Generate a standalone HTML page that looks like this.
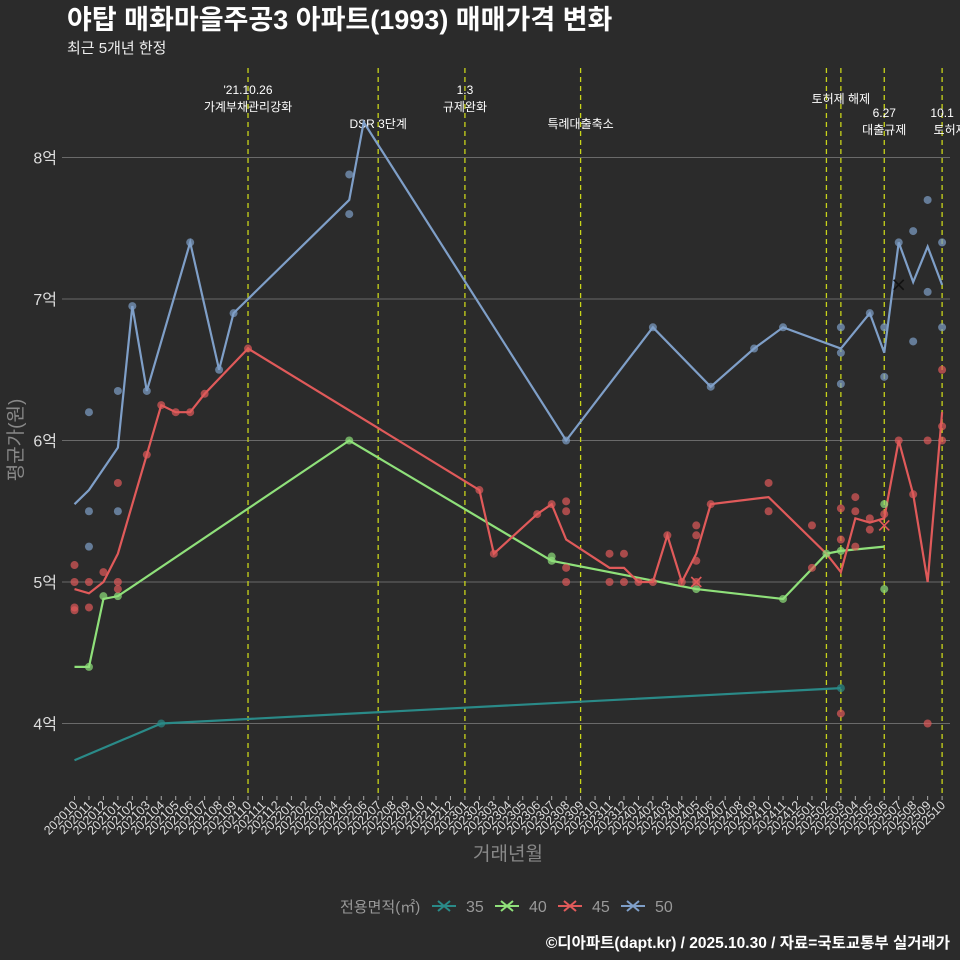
<!DOCTYPE html>
<html><head><meta charset="utf-8">
<style>
body{margin:0;background:#2b2b2b;}
svg{display:block;font-family:"Liberation Sans","Noto Sans CJK KR",sans-serif;}
</style></head>
<body>
<svg id="c" width="960" height="960" viewBox="0 0 960 960">
<rect width="960" height="960" fill="#2b2b2b"/>
<text x="67" y="29" fill="#fff" font-size="27" font-weight="bold">야탑 매화마을주공3 아파트(1993) 매매가격 변화</text>
<text x="67" y="53" fill="#eee" font-size="15">최근 5개년 한정</text>
<g id="grid"></g><g id="vlines"></g><g id="lines"></g><g id="pts"></g><g id="xt"></g>
<text transform="translate(22,440) rotate(-90)" text-anchor="middle" fill="#888" font-size="19">평균가(원)</text>
<text x="508" y="860" text-anchor="middle" fill="#888" font-size="19">거래년월</text>
<g id="legend"><text x="340" y="912" fill="#999" font-size="15">전용면적(㎡)</text></g>
<text x="950" y="948" text-anchor="end" fill="#fff" font-size="15.5" font-weight="bold">©디아파트(dapt.kr) / 2025.10.30 / 자료=국토교통부 실거래가</text>
</svg>
<script>
const months=[];for(let y=2020,m=10;!(y===2025&&m===11);){months.push(y+String(m).padStart(2,'0'));m++;if(m>12){m=1;y++;}}
const yTicks=[4,5,6,7,8];
const seriesNames=['35','40','45','50'];
const s35=[['202010',3.74],['202104',4.0],['202503',4.25]];
const s40=[['202010',4.4],['202011',4.4],['202012',4.88],['202101',4.9],['202205',6.0],['202307',5.15],['202405',4.95],['202411',4.88],['202502',5.2],['202503',5.22],['202506',5.25]];
const s45=[['202010',4.95],['202011',4.92],['202012',5.0],['202101',5.2],['202103',5.9],['202104',6.25],['202105',6.2],['202106',6.2],['202107',6.33],['202110',6.65],['202302',5.65],['202303',5.2],['202306',5.48],['202307',5.55],['202308',5.3],['202311',5.1],['202312',5.1],['202401',5.0],['202402',5.0],['202403',5.33],['202404',5.0],['202405',5.2],['202406',5.55],['202410',5.6],['202502',5.2],['202503',5.07],['202504',5.45],['202505',5.42],['202506',5.45],['202507',6.0],['202508',5.62],['202509',5.0],['202510',6.2]];
const s50=[['202010',5.55],['202011',5.65],['202101',5.95],['202102',6.95],['202103',6.35],['202105',7.05],['202106',7.4],['202108',6.5],['202109',6.9],['202205',7.7],['202206',8.25],['202308',6.0],['202402',6.8],['202406',6.38],['202409',6.65],['202411',6.8],['202503',6.65],['202505',6.9],['202506',6.62],['202507',7.4],['202508',7.12],['202509',7.37],['202510',7.1]];
const p35=[['202104',4.0],['202503',4.25]];
const p40=[['202011',4.4],['202012',4.9],['202101',4.9],['202205',6.0],['202307',5.18],['202307',5.15],['202405',4.95],['202411',4.88],['202502',5.2],['202503',5.22],['202506',5.55],['202506',4.95]];
const p45=[['202010',5.12],['202010',5.0],['202010',4.82],['202010',4.8],['202011',5.0],['202011',4.82],['202012',5.07],['202101',5.7],['202101',5.0],['202101',4.95],['202103',5.9],['202104',6.25],['202105',6.2],['202106',6.2],['202107',6.33],['202110',6.65],['202302',5.65],['202303',5.2],['202306',5.48],['202307',5.55],['202308',5.57],['202308',5.5],['202308',5.1],['202308',5.0],['202311',5.2],['202311',5.0],['202312',5.2],['202312',5.0],['202401',5.0],['202402',5.0],['202403',5.33],['202404',5.0],['202405',5.4],['202405',5.33],['202405',5.15],['202405',5.0],['202406',5.55],['202410',5.7],['202410',5.5],['202501',5.4],['202501',5.1],['202503',5.52],['202503',5.3],['202503',4.07],['202504',5.6],['202504',5.5],['202504',5.25],['202505',5.45],['202505',5.37],['202506',5.48],['202507',6.0],['202508',5.62],['202509',6.0],['202509',4.0],['202510',6.5],['202510',6.1],['202510',6.0]];
const p50=[['202011',6.2],['202011',5.5],['202011',5.25],['202101',6.35],['202101',5.5],['202102',6.95],['202103',6.35],['202106',7.4],['202108',6.5],['202109',6.9],['202205',7.88],['202205',7.6],['202308',6.0],['202402',6.8],['202406',6.38],['202409',6.65],['202411',6.8],['202503',6.8],['202503',6.4],['202503',6.62],['202505',6.9],['202506',6.8],['202506',6.45],['202507',7.4],['202508',7.48],['202508',6.7],['202509',7.7],['202509',7.05],['202510',7.4],['202510',6.8]];
const events=[['202110',"'21.10.26","가계부채관리강화",90,107],['202207','',"DSR 3단계",0,124],['202301','1.3','규제완화',90,107],['202309','','특례대출축소',0,124],['202502','','',0,0],['202503','','토허제 해제',0,99],['202506','6.27','대출규제',113,130],['202510','10.1','토허제',113,130]];
const colors=['#2a8a88','#8fe07a','#e05a5a','#7f9fc8'];
const X=m=>74.5+months.indexOf(m)*14.46;
const Y=v=>582-(v-5)*141.5;
const NS='http://www.w3.org/2000/svg';
function mk(p,t,a){const e=document.createElementNS(NS,t);for(const k in a)e.setAttribute(k,a[k]);document.getElementById(p).appendChild(e);return e;}
yTicks.forEach(v=>{
 const l=mk('grid','line',{x1:62,x2:950,y1:Y(v),y2:Y(v),stroke:'#6a6a6a','stroke-width':1});
 
 
 const t=mk('grid','text',{x:57,y:Y(v)+6,'text-anchor':'end',fill:'#ddd','font-size':16});t.textContent=v+'억';
 
 
});
months.forEach(m=>{
 const x=X(m);
 const tk=mk('xt','line',{x1:x,x2:x,y1:796,y2:800,stroke:'#aaa'});
 
 
 const t=mk('xt','text',{x:x+4,y:806,'text-anchor':'end',fill:'#ddd','font-size':12.5,transform:`rotate(-45 ${x+4} 806)`});t.textContent=m;
 
 
});
events.forEach(e=>{
 const x=X(e[0]);
 const l=mk('vlines','line',{x1:x,x2:x,y1:68,y2:796,stroke:'#c8d41a','stroke-width':1.3,'stroke-dasharray':'5,4'});
 
 
 if(e[1]){const t=mk('vlines','text',{x:x,y:e[3]+4,'text-anchor':'middle',fill:'#fff','font-size':12});t.textContent=e[1];
  
  }
 if(e[2]){const t=mk('vlines','text',{x:e[0]==='202510'?x+8:x,y:e[4]+4,'text-anchor':'middle',fill:'#fff','font-size':12});t.textContent=e[2];
  
  }
});
[s35,s40,s45,s50].forEach((s,i)=>{
 const p=mk('lines','polyline',{points:s.map(d=>X(d[0])+','+Y(d[1])).join(' '),fill:'none',stroke:colors[i],'stroke-width':2.2});
 
 
});
[p35,p40,p45,p50].forEach((s,i)=>s.forEach(d=>{
 const c=mk('pts','circle',{cx:X(d[0]),cy:Y(d[1]),r:4,fill:colors[i],'fill-opacity':0.7});
 
 
}));
const xm=[['202507',7.1,'#111'],['202405',5.0,'#e05a5a'],['202506',5.4,'#e05a5a']];
xm.forEach(d=>{const x=X(d[0]),y=Y(d[1]);
 const p=mk('pts','path',{d:`M${x-5},${y-5}L${x+5},${y+5}M${x-5},${y+5}L${x+5},${y-5}`,stroke:d[2],'stroke-width':1.6});
 
 
});
seriesNames.forEach((n,i)=>{
 const x=432+i*63;
 const l=mk('legend','path',{d:`M${x},906h24M${x+6},901l12,10M${x+6},911l12,-10`,stroke:colors[i],'stroke-width':2});
 
 
 const t=mk('legend','text',{x:x+34,y:912,fill:'#999','font-size':16});t.textContent=n;
 
 
});
</script>
</body></html>
